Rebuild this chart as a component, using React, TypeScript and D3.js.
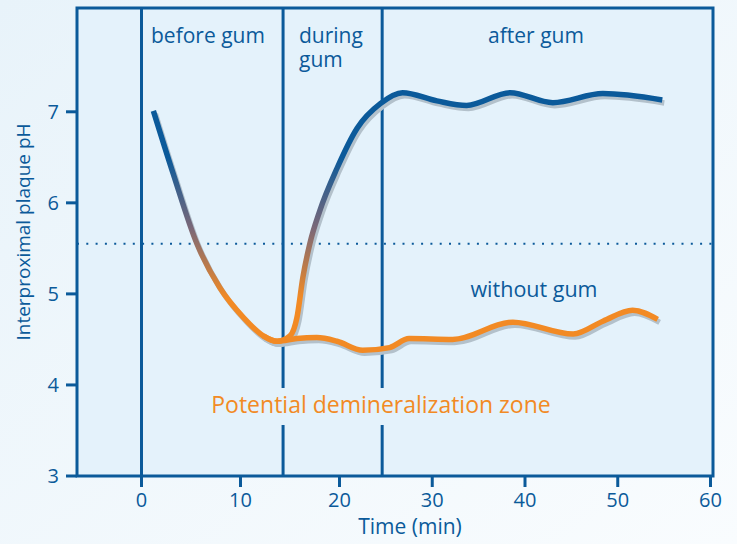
import React from 'react';
import * as d3 from 'd3';

// pH curve while chewing gum
const withGumTime = [1.2, 3.2, 5.6, 7.9, 10.3, 12.3, 13.7, 15.0, 15.7, 16.3, 17.0, 18.0, 19.75, 21.9, 24.4, 26.8, 30.5, 33.7, 38.4, 43.0, 48.4, 54.8];
const withGumPH = [7.01, 6.32, 5.55, 5.07, 4.74, 4.54, 4.48, 4.54, 4.74, 5.18, 5.55, 5.91, 6.38, 6.82, 7.09, 7.21, 7.12, 7.07, 7.21, 7.10, 7.20, 7.13];

// pH curve without gum
const noGumTime = [12.3, 13.7, 15.7, 17.7, 19.75, 22.5, 25.4, 27.5, 32.2, 38.7, 45.2, 48.4, 51.6, 54.3];
const noGumPH = [4.54, 4.48, 4.51, 4.52, 4.48, 4.38, 4.41, 4.51, 4.50, 4.69, 4.56, 4.70, 4.82, 4.72];

const xTicks = [0, 10, 20, 30, 40, 50, 60];
const yTicks = [3, 4, 5, 6, 7];
const phaseBounds = [0, 14.3, 24.6];
const criticalPH = 5.55;

const BLUE = '#0b5a9a';
const ORANGE = '#f28a24';
const FONT = '"Open Sans", sans-serif';

export default function App() {
  const W = 737, H = 544;
  const left = 77, right = 713, top = 8, bottom = 476;

  // the source axis is not evenly spaced, so use a piecewise scale
  const x = d3.scaleLinear().domain([-6.5, 0, 20, 60]).range([left, 141.5, 339.5, 710.5]);
  const y = d3.scaleLinear().domain([3, 8.14]).range([bottom, top]);

  const line = d3.line<[number, number]>()
    .x(d => x(d[0]))
    .y(d => y(d[1]))
    .curve(d3.curveMonotoneX);

  const withGum = withGumTime.map((t, i) => [t, withGumPH[i]] as [number, number]);
  const noGum = noGumTime.map((t, i) => [t, noGumPH[i]] as [number, number]);

  const zoneTop = 388, zoneBottom = 425;

  return (
    <svg width={W} height={H} style={{ position: 'absolute', left: 0, top: 0 }} fontFamily={FONT}>
      <defs>
        <linearGradient id="bg" x1="0" y1="0" x2="1" y2="1">
          <stop offset="0" stopColor="#e8f3fa" />
          <stop offset="1" stopColor="#f9fcfe" />
        </linearGradient>
        <linearGradient id="phGrad" gradientUnits="userSpaceOnUse" x1="0" x2="0" y1={y(6.5)} y2={y(4.95)}>
          <stop offset="0" stopColor={BLUE} />
          <stop offset="0.5" stopColor="#7a6878" />
          <stop offset="1" stopColor={ORANGE} />
        </linearGradient>
      </defs>
      <rect width={W} height={H} fill="url(#bg)" />
      <rect x={left} y={top} width={right - left} height={bottom - top} fill="#e4f2fb" />

      {/* critical pH */}
      <line x1={left} x2={right} y1={y(criticalPH)} y2={y(criticalPH)} stroke={BLUE} strokeWidth={2} strokeDasharray="2,7.3" />

      {/* phase dividers */}
      {phaseBounds.map((t, i) => i === 0 ? (
        <line key={t} x1={x(t)} x2={x(t)} y1={top} y2={bottom + 11} stroke={BLUE} strokeWidth={3} />
      ) : (
        <g key={t}>
          <line x1={x(t)} x2={x(t)} y1={top} y2={zoneTop} stroke={BLUE} strokeWidth={3} />
          <line x1={x(t)} x2={x(t)} y1={zoneBottom} y2={bottom} stroke={BLUE} strokeWidth={3} />
        </g>
      ))}

      {/* shadows */}
      <g transform="translate(2,3)" fill="none" stroke="#b3c1cb" strokeWidth={5.5}>
        <path d={line(noGum) || ''} />
        <path d={line(withGum) || ''} />
      </g>
      <path d={line(noGum) || ''} fill="none" stroke={ORANGE} strokeWidth={5.5} />
      <path d={line(withGum) || ''} fill="none" stroke="url(#phGrad)" strokeWidth={5.5} />

      {/* frame */}
      <rect x={left} y={top} width={right - left} height={bottom - top} fill="none" stroke={BLUE} strokeWidth={3} />

      {/* y axis */}
      {yTicks.map(v => (
        <g key={v}>
          <line x1={left - 11} x2={left} y1={y(v)} y2={y(v)} stroke={BLUE} strokeWidth={3} />
          <text x={59} y={y(v) + 7} textAnchor="end" fontSize={20} fill={BLUE}>{v}</text>
        </g>
      ))}
      <text transform="translate(30,232) rotate(-90)" textAnchor="middle" fontSize={19} fill={BLUE}>Interproximal plaque pH</text>

      {/* x axis */}
      {xTicks.map(v => (
        <g key={v}>
          <line x1={x(v)} x2={x(v)} y1={bottom} y2={bottom + 11} stroke={BLUE} strokeWidth={3} />
          <text x={x(v)} y={507} textAnchor="middle" fontSize={20} fill={BLUE}>{v}</text>
        </g>
      ))}
      <text x={410} y={534} textAnchor="middle" fontSize={21} fill={BLUE}>Time (min)</text>

      {/* labels */}
      <text x={151} y={43} fontSize={21} fill={BLUE}>before gum</text>
      <text x={299} y={43} fontSize={21} fill={BLUE}>during</text>
      <text x={299} y={67} fontSize={21} fill={BLUE}>gum</text>
      <text x={536} y={43} textAnchor="middle" fontSize={21} fill={BLUE}>after gum</text>
      <text x={534} y={297} textAnchor="middle" fontSize={21.5} fill={BLUE}>without gum</text>
      <text x={381} y={413} textAnchor="middle" fontSize={23} fill={ORANGE}>Potential demineralization zone</text>
    </svg>
  );
}
